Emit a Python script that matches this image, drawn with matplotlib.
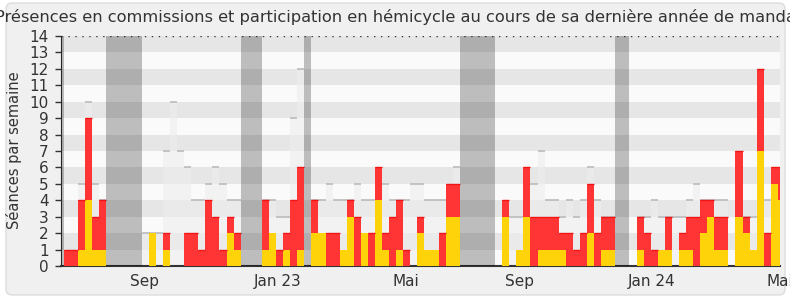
import numpy as np
import matplotlib.pyplot as plt
from matplotlib.patches import FancyBboxPatch
from matplotlib.transforms import IdentityTransform

# weekly values, week 0 = mid June 2022 ... week 101 = early May 2024
total = [1, 1, 4, 9, 3, 4, 0, 0, 0, 0, 0, 0, 2, 0, 2, 0, 0, 2, 2, 1,
         4, 3, 1, 3, 2, 0, 0, 0, 4, 2, 1, 2, 4, 6, 0, 4, 2, 2, 2, 1,
         4, 3, 2, 2, 6, 2, 3, 4, 1, 0, 3, 1, 1, 2, 5, 5, 0, 0, 0, 0,
         0, 0, 4, 0, 1, 6, 3, 3, 3, 3, 2, 2, 1, 2, 5, 2, 3, 3, 0, 0,
         0, 3, 2, 1, 1, 3, 0, 2, 3, 3, 4, 4, 3, 3, 0, 7, 3, 1, 12, 2,
         6, 6]
hemicycle = [0, 0, 1, 4, 1, 1, 0, 0, 0, 0, 0, 0, 2, 0, 1, 0, 0, 0, 0, 0,
             0, 0, 0, 2, 1, 0, 0, 0, 1, 2, 0, 1, 0, 1, 0, 2, 2, 0, 0, 1,
             3, 0, 2, 0, 4, 1, 0, 1, 0, 0, 2, 1, 1, 0, 3, 3, 0, 0, 0, 0,
             0, 0, 3, 0, 1, 3, 0, 1, 1, 1, 1, 0, 0, 0, 2, 0, 1, 1, 0, 0,
             0, 1, 0, 0, 1, 1, 0, 1, 1, 0, 2, 3, 1, 1, 0, 3, 2, 1, 7, 0,
             5, 4]
median = [0, 0, 5, 10, 5, 4, 0, 0, 0, 0, 0, 2, 2, 2, 7, 10, 7, 6, 4, 4,
          5, 6, 5, 4, 4, 0, 0, 0, 4, 4, 3, 3, 9, 12, 0, 4, 4, 5, 4, 4,
          4, 5, 4, 4, 5, 5, 4, 4, 4, 5, 5, 4, 4, 4, 4, 6, 0, 0, 0, 0,
          0, 0, 0, 3, 3, 5, 5, 7, 4, 4, 3, 4, 3, 4, 6, 4, 3, 3, 0, 0,
          0, 3, 3, 4, 3, 3, 3, 3, 4, 5, 4, 4, 4, 4, 0, 3, 3, 3, 4, 4,
          4, 4]
vac_start = [-1, 6, 25, 34, 56, 78]
vac_len = [1, 5, 3, 1, 5, 2]
tick_pos = [11.46, 30.3, 48.4, 64.4, 83.2, 101.25]
tick_lab = ['Sep', 'Jan 23', 'Mai', 'Sep', 'Jan 24', 'Mai']

weeks = np.arange(len(total))
total = np.array(total)
hemicycle = np.array(hemicycle)
median = np.array(median)
commission = total - hemicycle

fig = plt.figure(figsize=(7.9, 3), dpi=100)
fig.patch.set_facecolor('white')
frame = FancyBboxPatch((6, 5), 779, 292, boxstyle='round,pad=0,rounding_size=6',
                       transform=IdentityTransform(), facecolor='#f0f0f0',
                       edgecolor='#dddddd', linewidth=1, zorder=-10)
fig.patches.append(frame)

ax = fig.add_axes([61 / 790, 34 / 300, 719 / 790, 230 / 300])
ax.set_facecolor('none')

# striped background
for k in range(14):
    ax.axhspan(k, k + 1, color='#e6e6e6' if k % 2 else '#fafafa', lw=0, zorder=0)

# median presence
ax.bar(weeks, median, width=1, align='edge', color='#eeeeee', alpha=0.6, lw=0, zorder=1)
m = median > 0
ax.hlines(median[m], weeks[m], weeks[m] + 1, color='#bbbbbb', lw=1.2, zorder=1)

ax.bar(weeks, hemicycle, width=1, align='edge', color='#ffd30a', lw=0, zorder=3)
ax.bar(weeks, commission, bottom=hemicycle, width=1, align='edge', color='#ff3535', lw=0, zorder=3)
c = commission > 0
ax.hlines(total[c], weeks[c], weeks[c] + 1, color='#f01515', lw=1, zorder=3)

# parliamentary holidays
ax.bar(vac_start, 14, width=vac_len, align='edge', color='black', alpha=0.245, lw=0, zorder=4)

ax.axhline(14, color='#333333', ls=(0, (1, 4)), lw=1, zorder=5)

ax.set_xlim(-0.42, 101.3)
ax.set_ylim(0, 14)
ax.set_yticks(range(15))
ax.set_xticks(tick_pos)
ax.set_xticklabels(tick_lab)
ax.tick_params(axis='y', length=4, width=1, color='#333333', labelsize=11, labelcolor='#333333', pad=5)
ax.tick_params(axis='x', length=0, labelsize=11, labelcolor='#333333', pad=6)
for s in ['top', 'right']:
    ax.spines[s].set_visible(False)
ax.spines['left'].set_color('#333333')
ax.spines['bottom'].set_color('#333333')
ax.spines['bottom'].set_linewidth(1.5)

fig.text(14 / 790, 1 - 150 / 300, 'Séances par semaine', rotation=90, ha='center', va='center',
         fontsize=10.5, color='#333333')
fig.text(0.504, 1 - 17 / 300,
         'Présences en commissions et participation en hémicycle au cours de sa dernière année de mandat',
         ha='center', va='center', fontsize=11.7, color='#333333')

fig.savefig('out.png', dpi=100, facecolor=fig.get_facecolor())
